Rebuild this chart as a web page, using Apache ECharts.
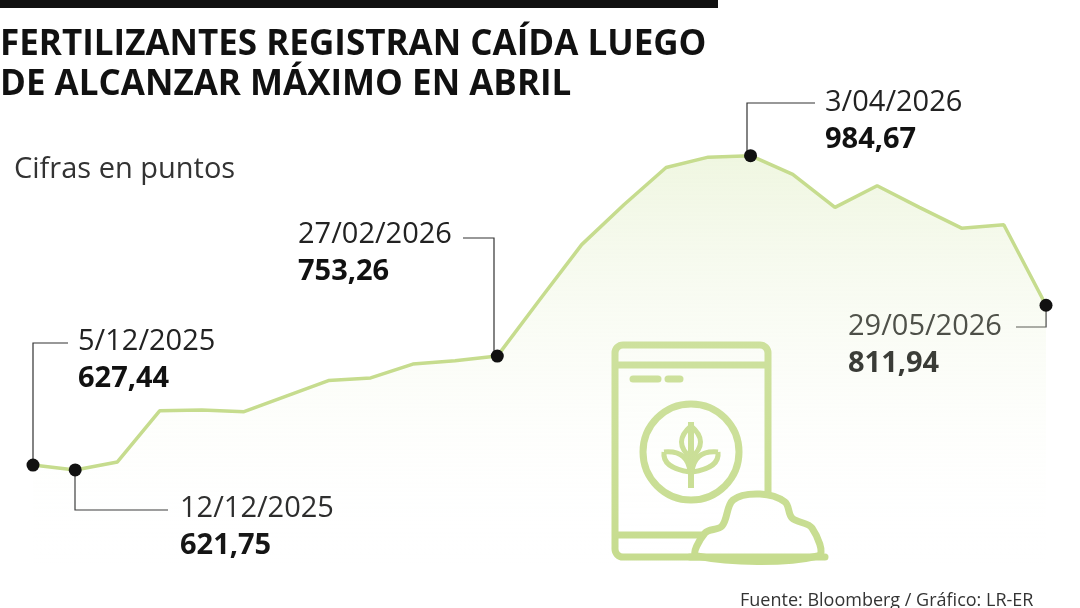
<!DOCTYPE html><html><head><meta charset="utf-8">
<script src="https://cdn.jsdelivr.net/npm/echarts@6/dist/echarts.min.js"></script>
<style>html,body{margin:0;background:#fff}#c{width:1080px;height:608px}</style></head><body><div id="c"></div>
<script>
const dates=["5/12/2025","12/12/2025","19/12/2025","26/12/2025","2/01/2026","9/01/2026","16/01/2026","23/01/2026","30/01/2026","6/02/2026","13/02/2026","27/02/2026","6/03/2026","13/03/2026","20/03/2026","27/03/2026","1/04/2026","3/04/2026","10/04/2026","17/04/2026","24/04/2026","1/05/2026","8/05/2026","15/05/2026","29/05/2026"];
const values=[627.44,621.75,631,690,691,689,707,725,728,744,748,753.26,818,882,928,971,983,984.67,963,925,950,925,901,905,811.94];
const marked=["5/12/2025","12/12/2025","27/02/2026","3/04/2026","29/05/2026"];
const G='#c6dc8e';
const chart=echarts.init(document.getElementById('c'));
const F='"Open Sans", sans-serif';
function lbl(x,y,d,v){return {type:'text',x:x,y:y,style:{text:'{d|'+d+'}\n{v|'+v+'}',rich:{d:{font:'29px '+F,fill:'#222',lineHeight:37},v:{font:'bold 29px '+F,fill:'#111',lineHeight:37}}}};}
function ln(pts){return {type:'polyline',shape:{points:pts},style:{stroke:'#333',lineWidth:1.2,fill:null}};}
function bz(a,b,c){return {type:'bezierCurve',shape:{x1:a[0],y1:a[1],cpx1:b[0],cpy1:b[1],x2:c[0],y2:c[1]},style:{stroke:G,lineWidth:5,fill:null}};}
chart.setOption({
 animation:false,
 grid:{left:33,right:34,top:100,bottom:43},
 xAxis:{type:'category',data:dates,boundaryGap:false,show:false},
 yAxis:{type:'value',min:512,max:1049,show:false},
 series:[{type:'line',data:values.map((v,i)=>({value:v,symbol:marked.includes(dates[i])?'circle':'none'})),
  symbolSize:13,itemStyle:{color:'#111'},lineStyle:{color:G,width:3.5},z:3,
  areaStyle:{color:new echarts.graphic.LinearGradient(0,0,0,1,[{offset:0,color:'rgba(214,232,176,0.55)'},{offset:1,color:'rgba(255,255,255,0)'}])}}],
 graphic:[
  {type:'rect',shape:{x:0,y:0,width:718,height:8},style:{fill:'#111'}},
  {type:'text',x:0,y:25,style:{text:'FERTILIZANTES REGISTRAN CAÍDA LUEGO\nDE ALCANZAR MÁXIMO EN ABRIL',font:'bold 35px "Open Sans",sans-serif',fill:'#111',lineHeight:40}},
  {type:'text',x:14,y:155,style:{text:'Cifras en puntos',font:'29px '+F,fill:'#333'}},
  ln([[33,465],[33,343],[68,343]]),lbl(78,323,'5/12/2025','627,44'),
  ln([[75,468],[75,510],[168,510]]),lbl(180,490,'12/12/2025','621,75'),
  ln([[494,355],[494,238],[463,238]]),lbl(298,216,'27/02/2026','753,26'),
  ln([[747,156],[747,103],[815,103]]),lbl(825,84,'3/04/2026','984,67'),
  ln([[1046,305],[1046,327],[1016,327]]),lbl(848,308,'29/05/2026','811,94'),
  {type:'rect',shape:{x:615,y:345,width:153,height:212,r:8},style:{fill:'rgba(255,255,255,0.3)',stroke:G,lineWidth:7}},
  {type:'line',shape:{x1:615,y1:365,x2:768,y2:365},style:{stroke:G,lineWidth:7}},
  {type:'line',shape:{x1:615,y1:535,x2:768,y2:535},style:{stroke:G,lineWidth:7}},
  {type:'line',shape:{x1:633,y1:379,x2:658,y2:379},style:{stroke:G,lineWidth:7,lineCap:'round'}},
  {type:'line',shape:{x1:668,y1:379,x2:680,y2:379},style:{stroke:G,lineWidth:7,lineCap:'round'}},
  {type:'circle',shape:{cx:691,cy:452,r:48},style:{fill:'none',stroke:G,lineWidth:7}},
  {type:'line',shape:{x1:691,y1:422,x2:691,y2:488},style:{stroke:G,lineWidth:6}},
  bz([691,426],[672,442],[691,458]),bz([691,426],[710,442],[691,458]),
  bz([690,472],[662,468],[664,452]),bz([664,452],[688,450],[690,472]),
  bz([692,472],[720,468],[718,452]),bz([718,452],[694,450],[692,472]),
  {type:'polygon',shape:{smooth:0.35,points:[[697,556],[705,533],[722,526],[733,500],[760,494],[785,502],[792,518],[812,528],[818,556]]},style:{fill:'#fff',stroke:G,lineWidth:7}},
  {type:'line',shape:{x1:690,y1:557,x2:825,y2:557},style:{stroke:G,lineWidth:7,lineCap:'round'}},
  {type:'text',x:740,y:592,style:{text:'Fuente: Bloomberg / Gráfico: LR-ER',font:'18px '+F,fill:'#333'}}
 ]
});
</script></body></html>
